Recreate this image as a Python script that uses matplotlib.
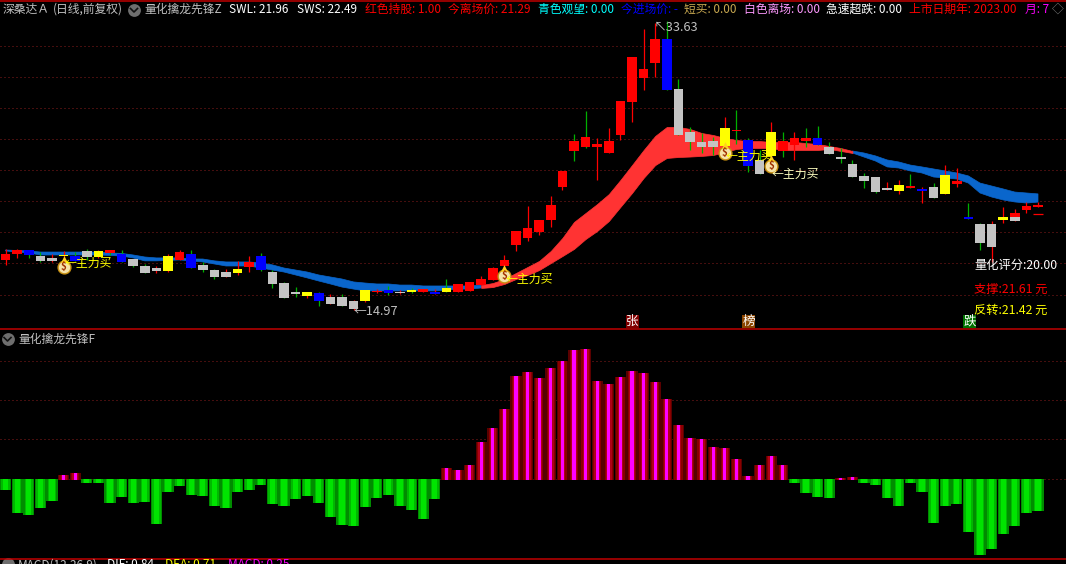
import numpy as np
import matplotlib
matplotlib.use("Agg")
import matplotlib.pyplot as plt
from matplotlib.patches import Rectangle

plt.rcParams['font.family'] = ['Noto Sans CJK SC', 'DejaVu Sans']

body_color = list("RRBGGYBGYR" "BGGGYRBGGG" "YRBGGGYBGG" "GYRBGYRBYR" "RRRRRRRRRR"
                  "RRRRRRRBGG" "GGYRBGYRRR" "BGGGGGGYRB" "GYRBGGYGRR")
wick_color = list("rrggrrggrg" "gggrrrgggr" "rrggggrgrg" "rrrgrgrrgr" "rrrrrrrrrg"
                  "grrrrrrggg" "ggrgggrgrg" "ggggggrrgr" "grrggrrrrr")
body_top = [18.61,18.87,18.87,18.48,18.36,18.55,18.48,18.81,18.81,18.87,
            18.61,18.29,17.84,17.71,18.48,18.74,18.61,17.91,17.58,17.45,
            17.65,18.10,18.48,17.45,16.74,16.16,16.16,16.10,15.84,15.84,
            15.58,16.29,16.23,16.29,16.16,16.29,16.35,16.16,16.42,16.68,
            16.81,17.00,17.71,18.23,20.10,20.29,20.81,21.77,23.97,25.90,
            26.16,25.71,25.90,28.48,31.32,30.55,32.48,32.48,29.26,26.48,
            25.84,25.90,26.74,26.61,25.97,24.68,26.48,25.90,26.10,26.10,
            26.10,25.52,24.87,24.42,23.65,23.58,22.87,23.06,23.00,22.81,
            22.94,23.71,23.32,21.00,20.55,20.55,21.00,21.00,21.71,21.77]
body_bottom = [18.23,18.61,18.55,18.17,18.17,18.48,18.17,18.42,18.42,18.68,
               18.10,17.84,17.39,17.52,17.52,18.23,17.71,17.58,17.13,17.13,
               17.39,17.78,17.58,16.68,15.77,16.03,15.90,15.58,15.39,15.26,
               15.06,15.58,16.16,16.10,16.10,16.19,16.16,16.03,16.16,16.16,
               16.23,16.61,16.94,17.84,19.19,19.65,20.03,20.81,22.94,25.26,
               25.52,25.52,25.13,26.29,28.42,29.97,30.94,29.19,26.29,25.84,
               25.52,25.52,25.58,26.55,24.29,23.77,24.94,25.26,25.65,25.90,
               25.65,25.06,24.74,23.58,23.32,22.61,22.74,22.68,22.87,22.68,
               22.23,22.48,23.13,20.87,19.32,19.06,20.81,20.74,21.45,21.65]
high = [18.93,18.93,18.87,18.74,18.61,18.81,18.74,18.93,18.87,18.87,
        18.87,18.29,17.97,17.84,18.61,18.87,18.87,18.10,17.65,17.65,
        18.17,18.48,18.68,17.58,16.81,16.48,16.16,16.16,16.03,16.03,
        15.65,16.29,16.35,16.55,16.29,16.42,16.35,16.35,17.00,16.68,
        16.81,17.19,17.78,18.55,20.10,21.71,20.81,22.35,23.97,26.35,
        27.84,26.10,26.74,28.48,31.32,33.13,33.52,33.63,29.90,26.81,
        26.42,26.16,27.45,27.90,26.10,25.32,27.13,26.48,26.48,26.74,
        26.87,25.84,25.45,24.68,23.84,23.58,23.26,23.39,23.77,22.94,
        23.19,24.35,24.16,21.90,20.61,20.74,21.65,21.52,21.97,21.97]
low = [17.90,18.36,18.36,18.10,18.10,18.10,18.17,18.23,18.36,18.55,
       18.10,17.78,17.39,17.39,17.45,18.23,17.71,17.45,17.00,17.13,
       17.26,17.45,17.52,16.42,15.77,15.84,15.77,15.26,15.39,15.26,
       14.97,15.52,16.10,15.97,16.03,16.10,16.16,16.03,16.16,16.16,
       16.23,16.61,16.94,17.58,18.81,19.45,19.84,20.35,22.74,24.61,
       25.45,23.39,25.13,25.97,27.13,29.19,30.03,29.19,26.29,25.32,
       25.13,25.00,25.58,25.71,23.90,23.77,24.68,24.87,24.68,25.52,
       25.65,25.06,24.48,23.58,22.87,22.55,22.74,22.48,22.87,21.90,
       22.23,22.48,22.94,20.87,18.87,18.10,20.61,20.74,21.26,21.65]
extra_index = [87]
extra_top = [21.26]
extra_bottom = [21.00]
last_tick = 21.2

band_upper = [18.87,18.84,18.81,18.74,18.74,18.74,18.74,18.74,18.74,18.68,
              18.65,18.55,18.42,18.36,18.36,18.36,18.29,18.29,18.17,18.10,
              18.10,18.10,18.03,17.91,17.71,17.58,17.45,17.26,17.13,17.00,
              16.81,16.74,16.68,16.68,16.61,16.61,16.55,16.55,16.55,16.55,
              16.55,16.61,16.74,17.00,17.39,17.78,18.17,18.81,19.65,20.68,
              21.26,21.84,22.48,23.39,24.35,25.32,26.23,26.81,26.81,26.68,
              26.42,26.29,26.10,25.97,25.90,25.90,25.84,25.84,25.84,25.77,
              25.71,25.58,25.45,25.26,25.13,24.94,24.68,24.55,24.35,24.23,
              24.10,23.97,23.84,23.65,23.19,23.00,22.81,22.61,22.55,22.49]
band_lower = [18.81,18.74,18.68,18.55,18.55,18.55,18.55,18.55,18.55,18.52,
              18.48,18.36,18.17,18.17,18.20,18.23,18.17,18.10,17.97,17.84,
              17.84,17.84,17.71,17.58,17.45,17.26,17.07,16.87,16.68,16.48,
              16.35,16.23,16.23,16.23,16.23,16.23,16.23,16.23,16.29,16.35,
              16.35,16.42,16.48,16.68,17.00,17.26,17.58,18.03,18.48,18.94,
              19.58,20.10,20.74,21.65,22.55,23.52,24.35,24.81,24.87,24.90,
              24.94,25.00,25.19,25.39,25.45,25.45,25.45,25.32,25.32,25.32,
              25.32,25.39,25.26,25.13,24.87,24.61,24.23,24.16,23.97,23.84,
              23.58,23.52,23.45,23.19,22.55,22.29,22.10,21.97,21.90,21.96]
red_band_from = 41
red_band_to = 73

buy_index = [5, 43, 62, 66]
buy_price = [17.77, 17.19, 25.13, 24.29]
buy_label_price = [18.03, 16.97, 24.94, 23.77]
buy_label_color = ['#ffff00', '#ffff00', '#ffff00', '#ffffc0']
price_grid = [16, 18, 20, 22, 24, 26, 28, 30, 32]

score = [-11,-34,-36,-29,-22,4,6,-4,-4,-24,
         -18,-24,-23,-45,-13,-7,-16,-17,-27,-29,
         -13,-11,-6,-25,-27,-20,-17,-24,-38,-46,
         -47,-28,-19,-16,-27,-31,-40,-20,11,9,
         14,37,51,70,103,107,101,111,118,129,
         130,98,95,102,108,106,97,80,54,41,
         40,32,31,20,3,14,23,14,-4,-14,
         -18,-19,1,2,-4,-6,-19,-27,-4,-13,
         -44,-27,-25,-53,-76,-70,-55,-47,-34,-32]
score_grid = [0, 40, 79, 118]

header = [
    (3, '深桑达Ａ', '#c0c0c0'), (53, '(日线,前复权)', '#c0c0c0'),
    (144, '量化擒龙先锋Z', '#c0c0c0'),
    (229, 'SWL: 21.96', '#ffffff'), (297, 'SWS: 22.49', '#ffffff'),
    (365, '红色持股: 1.00', '#ff0000'), (448, '今离场价: 21.29', '#ff0000'),
    (538, '青色观望: 0.00', '#00ffff'), (621, '今进场价: -', '#0000ff'),
    (684, '短买: 0.00', '#c8a850'), (744, '白色离场: 0.00', '#ff99ff'),
    (826, '急速超跌: 0.00', '#ffffff'), (909, '上市日期年: 2023.00', '#ff0000'),
    (1025, '月: 7', '#ff00ff'), (1052, '◇', '#808080'),
]
macd_legend = [
    (18, 'MACD(12.26.9)', '#c0c0c0'), (107, 'DIF: 0.84', '#ffffff'),
    (165, 'DEA: 0.71', '#ffff00'), (228, 'MACD: 0.25', '#ff00ff'),
]
summary = [(265, '量化评分:20.00', '#ffffff'),
           (289, '支撑:21.61 元', '#ff0000'),
           (310, '反转:21.42 元', '#ffff00')]
tags = [(626, '张', '#800000'), (742, '榜', '#8b4500'), (963, '跌', '#007000')]

W, H = 1066, 564
fig = plt.figure(figsize=(W / 100, H / 100), dpi=100, facecolor='black')
x = np.arange(len(score))
x_left, x_right = -5.6 / 11.6, (W - 5.6) / 11.6

def panel(top, bottom):
    ax = fig.add_axes([0, 1 - bottom / H, 1, (bottom - top) / H], facecolor='black')
    ax.set_xlim(x_left, x_right)
    ax.axis('off')
    return ax

GRID = dict(color='#8a1c1c', lw=0.72, linestyle=(0, (1, 3)), zorder=1)

# price panel
ax1 = panel(2, 329)
ax1.set_ylim(35 - 329 / 15.5, 35 - 2 / 15.5)
for p in price_grid:
    ax1.axhline(p, **GRID)

upper, lower = np.array(band_upper), np.array(band_lower)
blue_mask = (x <= red_band_from) | (x >= red_band_to)
red_mask = (x >= red_band_from) & (x <= red_band_to)
ax1.fill_between(x, lower, upper, where=blue_mask, color='#0a66cc', lw=0.5, zorder=2)
ax1.fill_between(x, lower, upper, where=red_mask, color='#ff3333', lw=0.5, zorder=2)

palette = {'R': '#ff0000', 'G': '#c4c4c4', 'Y': '#ffff00', 'B': '#0000ff'}
wicks = {'r': '#ff0000', 'g': '#00b000'}
top, bot = np.array(body_top), np.array(body_bottom)
ax1.vlines(x, low, high, colors=[wicks[c] for c in wick_color], lw=0.9, zorder=3)
ax1.bar(x, top - bot, 0.84, bottom=bot, color=[palette[c] for c in body_color],
        lw=0, zorder=4, antialiased=False)
ax1.bar(extra_index, np.array(extra_top) - np.array(extra_bottom), 0.84,
        bottom=extra_bottom, color=palette['R'], lw=0, zorder=4, antialiased=False)
ax1.hlines(last_tick, x[-1] - 0.39, x[-1] + 0.39, colors='#ff0000', lw=0.9, zorder=4)

# buy markers
ax1.scatter(buy_index, buy_price, s=85, c='#f6e3a8', edgecolors='#c89010', linewidths=1, zorder=6)
ax1.scatter(buy_index, np.array(buy_price) + 0.5, s=24, marker='^', c='#ffd020', lw=0, zorder=6)
for i, p, lp, c in zip(buy_index, buy_price, buy_label_price, buy_label_color):
    ax1.text(i, p, '$', color='#a03000', fontsize=7, ha='center', va='center',
             fontweight='bold', zorder=7)
    ax1.annotate('←主力买', (i, lp), xytext=(0.5, 0), textcoords='offset points',
                 color=c, fontsize=8.6, va='center', zorder=7)

# extremes
imax, imin = int(np.argmax(high)), int(np.argmin(low))
ax1.annotate(f'↖{high[imax]:.2f}', (imax, high[imax]), xytext=(-9, -4.5), textcoords='offset points',
             color='#c0c0c0', fontsize=9.2, va='center', zorder=7)
ax1.annotate(f'←{low[imin]:.2f}', (imin, low[imin]), xytext=(0, -1), textcoords='offset points',
             color='#c0c0c0', fontsize=9.2, va='center', zorder=7)

# score panel
ax2 = panel(330, 558)
ax2.set_ylim(479 - 558, 479 - 330)
for g in score_grid:
    ax2.axhline(g, **GRID)
vals = np.array(score, dtype=float)
pos, neg = vals > 0, vals < 0
for w, c in ((0.97, '#5a0000'), (0.74, '#8a0000'), (0.5, '#b00018'), (0.26, '#ff00ff')):
    ax2.bar(x[pos], vals[pos] + 1, w, bottom=-1, color=c, lw=0, zorder=3, antialiased=False)
for w, c in ((0.97, '#008c00'), (0.74, '#00b800'), (0.46, '#00e400')):
    ax2.bar(x[neg], vals[neg], w, color=c, lw=0, zorder=3, antialiased=False)

# overlay in picture coordinates
ov = fig.add_axes([0, 0, 1, 1], facecolor='none')
ov.set_xlim(0, W)
ov.set_ylim(H, 0)
ov.axis('off')
for yy in (1, 329, 558.5):
    ov.axhline(yy, color='#c00000', lw=1.1)
FS = 8.5
for px, label, c in header:
    ov.text(px, 9.5, label, color=c, fontsize=FS, va='center', ha='left')
ov.scatter([134, 7.5, 7.5], [10, 339, 564], s=85, c='#6e6e6e', lw=0)
ov.plot([130.5, 134, 137.5], [8.5, 12, 8.5], color='#111111', lw=1.2)
ov.plot([4, 7.5, 11], [337.5, 341, 337.5], color='#111111', lw=1.2)
ov.text(18, 339, '量化擒龙先锋F', color='#c0c0c0', fontsize=FS, va='center')
for px, label, c in macd_legend:
    ov.text(px, 565, label, color=c, fontsize=FS, va='center')
for py, label, c in summary:
    ov.text(974, py, label, color=c, fontsize=8.8, va='center')
for px, label, c in tags:
    ov.add_patch(Rectangle((px, 315), 13, 13, color=c, lw=0))
    ov.text(px + 6.5, 321.3, label, color='#ffffff', fontsize=9, ha='center', va='center')

fig.savefig('out.png', dpi=100, facecolor='black')
